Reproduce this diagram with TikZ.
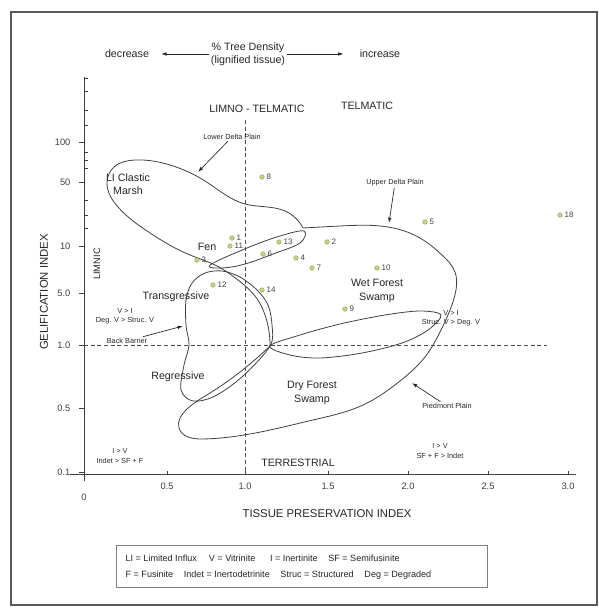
\documentclass[tikz,border=0pt]{standalone}
\usepackage{fontspec}
\setmainfont{Liberation Sans}
\usetikzlibrary{hobby,arrows.meta}

\definecolor{ptcol}{RGB}{205,205,125}
\tikzset{
  lbl/.style={font=\fontsize{8}{10}\selectfont, text=black!85, inner sep=1pt, align=center},
  axtitle/.style={font=\fontsize{8.5}{10}\selectfont, text=black!85, inner sep=1pt},
  ticklbl/.style={font=\fontsize{7}{8}\selectfont, text=black!75, inner sep=1pt},
  tiny/.style={font=\fontsize{5.5}{7}\selectfont, text=black!85, inner sep=1pt, align=center},
  numlbl/.style={font=\fontsize{6}{7}\selectfont, text=black!75, inner sep=0.5pt},
  sample/.style={circle, minimum size=3.5pt, inner sep=0pt, fill=ptcol, draw=ptcol!70!black, line width=0.2pt},
  field/.style={draw=black!75, line width=0.6pt},
  guide/.style={draw=black!70, line width=0.5pt, dash pattern=on 3pt off 2pt},
  axis/.style={draw=black!75, line width=0.6pt},
  arr/.style={-{Latex[length=4pt,width=2.6pt]}, draw=black!85, line width=0.5pt},
}

\begin{document}
\begin{tikzpicture}[x=0.75pt,y=0.75pt,yscale=-1,xscale=1]
\useasboundingbox (0,0) rectangle (599,608);

%Shape: Frame
\draw [draw=black!65, line width=1.3pt] (11,12) rectangle (597,605);

%Shape: Axes
\draw [axis] (84,77) -- (84,481);
\draw [axis] (70,474) -- (576,474);
% y ticks
\foreach \yy/\tx [count=\i] in {142/100,182/50,246/10,293/5.0,345/1.0,408/0.5,472/0.1} {
  \draw [axis] (79,\yy) -- (84,\yy);
  \node [ticklbl, anchor=east] (ytick\i) at (72,\yy) {\tx};
}
\foreach \yy in {78,91,110,125,152,160,168,200,215,228} {
  \draw [axis, line width=0.4pt] (84,\yy) -- (88,\yy);
}
% x ticks
\foreach \xx/\tx [count=\i] in {167/0.5,245/1.0,328/1.5,408/2.0,488/2.5,568/3.0} {
  \draw [axis] (\xx,474) -- (\xx,471);
  \node [ticklbl] (xtick\i) at (\xx,486) {\tx};
}
\node [ticklbl] (xzero) at (84,497) {0};

% Text Node
\node [axtitle] (xtitle) at (327,514) {TISSUE PRESERVATION INDEX};
% Text Node
\node [axtitle, rotate=90] (ytitle) at (44,292) {GELIFICATION INDEX};

% Text Node
\node [lbl] (decr) at (127,54) {decrease};
% Text Node
\node [lbl] (dens) at (248,54) {\% Tree Density\\(lignified tissue)};
% Text Node
\node [lbl] (incr) at (380,54) {increase};
\draw [arr, shorten >=8pt] (dens) -- (decr);
\draw [arr, shorten >=11pt] (dens) -- (incr);

%Shape: Dashed guides
\draw [guide] (245,120) -- (245,474);
\draw [guide] (84,345) -- (547,345);

% Text Node
\node [lbl] (limtel) at (257,109) {LIMNO - TELMATIC};
% Text Node
\node [lbl] (telm) at (367,106) {TELMATIC};
% Text Node
\node [lbl] (terr) at (298,463) {TERRESTRIAL};
% Text Node
\node [lbl, font=\fontsize{7}{8}\selectfont, rotate=90] (limn) at (97,264) {LIMNIC};

%Shape: Lower delta plain
\draw [field, use Hobby shortcut] (270,346) .. (266,318) .. (255,296) .. (238,280) .. (217,266) .. (190,255) .. (150,233) .. (118,207) .. (107,183) .. (114,167) .. (135,160) .. (170,165) .. (205,181) .. (245,204) .. (285,211) .. (303,228);
%Shape: Fen lobe
\draw [field] plot [smooth cycle, tension=0.6] coordinates {(210,265) (247,248) (280,236) (304,231) (300,243) (273,254) (245,264) (222,268)};
%Shape: Upper delta plain / Piedmont plain
\draw [field, use Hobby shortcut] (303,228) .. (340,226) .. (388,227) .. (420,238) .. (442,255) .. (455,272) .. (456,290) .. (450,310) .. (440,332) .. (425,357) .. (400,381) .. (363,405) .. (313,420) .. (250,434) .. (203,439) .. (179,428) .. (186,410) .. (210,393) .. (240,372) .. (270,346);
%Shape: Right lobe
\draw [field] plot [smooth cycle, tension=0.55] coordinates {(270,346) (300,335) (340,324) (385,315) (420,311) (441,315) (428,330) (402,343) (362,353) (320,358) (290,355)};
%Shape: Back barrier
\draw [field] plot [smooth cycle, tension=0.55] coordinates {(270,346) (272,325) (268,305) (257,290) (240,277) (222,271) (205,273) (192,283) (186,300) (186,325) (189,345) (184,365) (181,390) (193,401) (215,396) (243,376)};

% Text Node
\node [lbl] (llcm) at (128,184) {LI Clastic\\Marsh};
% Text Node
\node [lbl] (fen) at (207,247) {Fen};
% Text Node
\node [lbl] (trans) at (176,297) {Transgressive};
% Text Node
\node [lbl] (regr) at (178,377) {Regressive};
% Text Node
\node [lbl] (wfs) at (377,291) {Wet Forest\\Swamp};
% Text Node
\node [lbl] (dfs) at (312,393) {Dry Forest\\Swamp};

% Text Node
\node [tiny] (lowdp) at (232,137) {Lower Delta Plain};
\coordinate (ldpend) at (198,172);
\draw [arr] (lowdp) -- (ldpend);
% Text Node
\node [tiny] (uppdp) at (395,183) {Upper Delta Plain};
\coordinate (udpend) at (389,223);
\draw [arr] (uppdp) -- (udpend);
% Text Node
\node [tiny] (piedp) at (447,406) {Piedmont Plain};
\coordinate (pdpend) at (412,383);
\draw [arr] (piedp) -- (pdpend);
% Text Node
\node [tiny] (backb) at (127,341) {Back Barrier};
\coordinate (bbend) at (183,326);
\draw [arr] (backb) -- (bbend);

% Text Node
\node [tiny] (qul) at (125,316) {V > I\\Deg. V > Struc. V};
% Text Node
\node [tiny] (qur) at (451,318) {V > I\\Struc. V > Deg. V};
% Text Node
\node [tiny] (qll) at (120,456) {I > V\\Indet > SF + F};
% Text Node
\node [tiny] (qlr) at (440,451) {I > V\\SF + F > Indet};

% Samples
\foreach \px/\py/\nm in {262/177/8, 232/238/1, 230/246/11, 197/260/3, 279/242/13, 263/254/6, 296/258/4, 312/268/7, 327/242/2, 213/285/12, 262/290/14, 377/268/10, 425/222/5, 560/215/18, 345/309/9} {
  \node [sample, label={[numlbl, xshift=1pt]right:\nm}] (s\nm) at (\px,\py) {};
}

%Shape: Legend
\node [draw=black!50, line width=0.6pt, minimum width=371*0.75pt, minimum height=42*0.75pt] (legend) at (302,566) {};
% Text Node
\node [tiny, font=\fontsize{6.8}{8}\selectfont, anchor=west] (leg1) at (124,558) {LI = Limited Influx\hspace{9pt}V = Vitrinite\hspace{11pt}I = Inertinite\hspace{8pt}SF = Semifusinite};
% Text Node
\node [tiny, font=\fontsize{6.8}{8}\selectfont, anchor=west] (leg2) at (124,575) {F = Fusinite\hspace{8pt}Indet = Inertodetrinite\hspace{8pt}Struc = Structured\hspace{8pt}Deg = Degraded};

\end{tikzpicture}
\end{document}
